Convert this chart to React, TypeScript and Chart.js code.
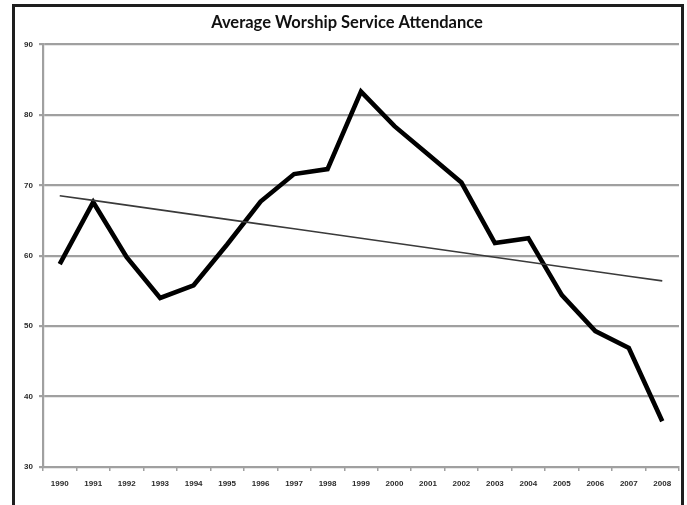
import React, { useEffect, useRef } from "react";
import { Chart, registerables } from "chart.js";

Chart.register(...registerables);

// Attendance by year
const years = [
  "1990", "1991", "1992", "1993", "1994", "1995", "1996", "1997", "1998", "1999",
  "2000", "2001", "2002", "2003", "2004", "2005", "2006", "2007", "2008",
];
const attendance = [
  58.8, 67.6, 59.8, 54.0, 55.8, 61.6, 67.7, 71.6, 72.3, 83.3,
  78.4, 74.4, 70.4, 61.8, 62.5, 54.4, 49.3, 46.9, 36.5,
];

const yMin = 30;
const yMax = 90;
const yStep = 10;

const chartTitle = "Average Worship Service Attendance";

// Least-squares linear trend over the attendance series
function linearTrend(values: number[]): number[] {
  const n = values.length;
  const meanX = (n - 1) / 2;
  const meanY = values.reduce((a, b) => a + b, 0) / n;
  let sxy = 0;
  let sxx = 0;
  values.forEach((v, i) => {
    sxy += (i - meanX) * (v - meanY);
    sxx += (i - meanX) * (i - meanX);
  });
  const slope = sxy / sxx;
  return values.map((_, i) => meanY + slope * (i - meanX));
}

const GRID = "#a0a0a0";
const TICK_TEXT = "#2b2b2b";

export default function App() {
  const canvasRef = useRef<HTMLCanvasElement | null>(null);

  useEffect(() => {
    const canvas = canvasRef.current;
    if (!canvas) return;
    const chart = new Chart(canvas, {
      type: "line",
      data: {
        labels: years,
        datasets: [
          {
            label: "Trend",
            data: linearTrend(attendance),
            borderColor: "#3a3a3a",
            borderWidth: 1.6,
            pointRadius: 0,
            tension: 0,
            fill: false,
          },
          {
            label: "Attendance",
            data: attendance,
            borderColor: "#000000",
            borderWidth: 4.6,
            pointRadius: 0,
            tension: 0,
            fill: false,
          },
        ],
      },
      options: {
        animation: false,
        responsive: false,
        devicePixelRatio: 1,
        layout: { padding: { left: 0, right: 2, top: 0, bottom: 0 } },
        plugins: {
          legend: { display: false },
          tooltip: { enabled: false },
          title: {
            display: true,
            text: chartTitle,
            color: "#111111",
            font: { family: "Lato, 'Open Sans', sans-serif", size: 16.5, weight: "bold" },
            padding: { top: 6, bottom: 11.7 },
          },
        },
        scales: {
          x: {
            offset: true,
            grid: {
              display: true,
              offset: true,
              drawOnChartArea: false,
              drawTicks: true,
              tickLength: 4,
              color: GRID,
              lineWidth: 1.5,
            },
            border: { display: true, color: GRID, width: 2 },
            ticks: {
              color: TICK_TEXT,
              font: { family: "'Liberation Sans', Arial, sans-serif", size: 8, weight: "bold" },
              padding: 8,
              maxRotation: 0,
              autoSkip: false,
            },
            afterFit: (scale: any) => {
              scale.height = 38;
            },
          },
          y: {
            min: yMin,
            max: yMax,
            grid: {
              color: GRID,
              lineWidth: 2.2,
              drawTicks: true,
              tickLength: 4,
            },
            border: { display: true, color: GRID, width: 2.2 },
            ticks: {
              stepSize: yStep,
              color: TICK_TEXT,
              font: { family: "'Liberation Sans', Arial, sans-serif", size: 8, weight: "bold" },
              padding: 6,
            },
            afterFit: (scale: any) => {
              scale.width = 28;
            },
          },
        },
      },
    });
    return () => chart.destroy();
  }, []);

  return (
    <div
      style={{
        position: "absolute",
        left: 0,
        top: 0,
        width: 687,
        height: 505,
        overflow: "hidden",
        background: "#ffffff",
      }}
    >
      <div
        style={{
          position: "absolute",
          left: 12,
          top: 4,
          width: 666,
          height: 520,
          border: "3px solid #1e1e1e",
          background: "#ffffff",
        }}
      >
        <canvas
          ref={canvasRef}
          width={666}
          height={498}
          style={{ display: "block", width: 666, height: 498 }}
        />
      </div>
    </div>
  );
}
